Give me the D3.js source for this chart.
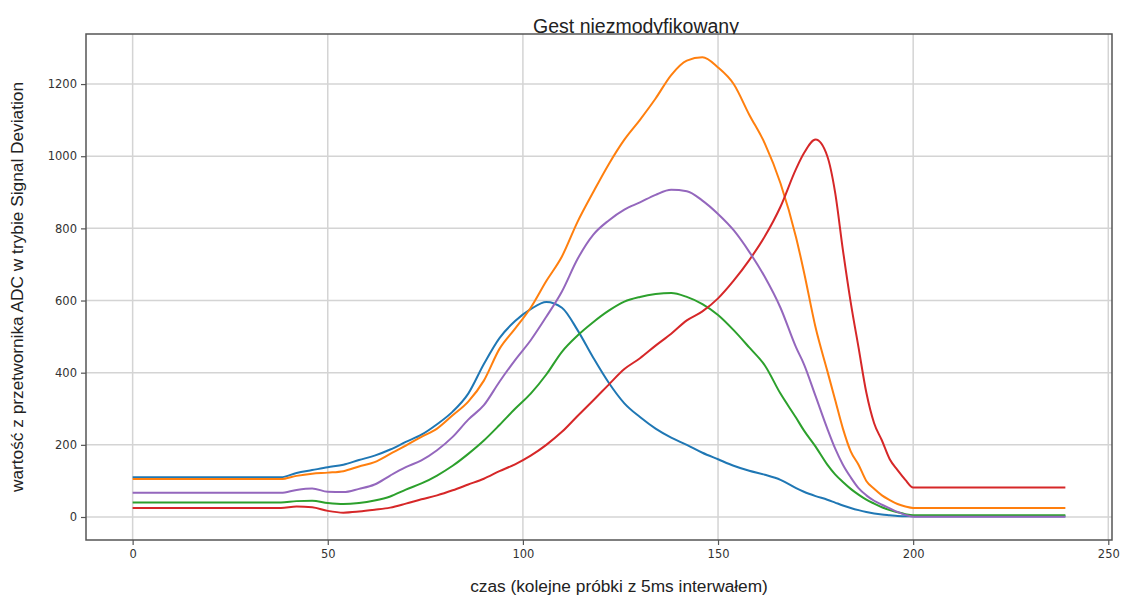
<!DOCTYPE html>
<html>
<head>
<meta charset="utf-8">
<script src="https://cdn.jsdelivr.net/npm/d3@7"></script>
<style>
  body { margin: 0; background: #fff; }
  svg { display: block; }
</style>
</head>
<body>
<svg id="chart" width="1122" height="601"></svg>
<script>
// sample index (kolejne próbki), denser where curves bend
var samples = [0, 38, 42, 46, 50, 54, 58, 62, 66, 70, 74, 78, 82, 86, 90, 94, 98, 102, 106, 110,
  114, 118, 122, 126, 130, 134, 138, 142, 146, 150, 154, 158, 162, 166, 170, 172, 175, 178,
  180, 182, 184, 186, 188, 190, 192, 194, 196, 198, 200, 239];

var blueVals = [110, 110, 122, 130, 138, 145, 158, 170, 187, 208, 228, 257, 292, 342, 424, 496,
  543, 576, 596, 580, 518, 442, 372, 315, 277, 245, 220, 200, 178, 160, 142, 128, 117, 103, 80,
  70, 58, 48, 40, 32, 25, 19, 14, 10, 7, 5, 3, 2, 2, 2];
var orangeVals = [105, 105, 114, 120, 123, 127, 140, 152, 175, 198, 222, 245, 282, 320, 378, 466,
  522, 580, 654, 722, 818, 900, 978, 1046, 1101, 1160, 1225, 1265, 1274, 1246, 1200, 1115, 1035,
  925, 775, 680, 525, 405, 325, 245, 182, 145, 100, 78, 60, 47, 36, 29, 25, 25];
var greenVals = [40, 40, 44, 45, 39, 36, 39, 46, 57, 76, 93, 115, 142, 175, 212, 255, 300, 342,
  395, 458, 503, 540, 572, 597, 610, 618, 621, 610, 590, 560, 518, 470, 420, 342, 275, 240, 195,
  145, 118, 97, 78, 62, 48, 37, 27, 19, 13, 8, 5, 5];
var redVals = [25, 25, 29, 27, 17, 12, 15, 20, 26, 37, 49, 60, 74, 90, 106, 127, 146, 170, 200,
  236, 280, 323, 367, 410, 440, 475, 508, 545, 570, 606, 655, 712, 778, 860, 965, 1008, 1046,
  1000, 900, 740, 595, 470, 345, 260, 212, 160, 130, 103, 82, 82];
var purpleVals = [67, 67, 75, 79, 70, 69, 78, 90, 115, 138, 157, 185, 222, 270, 310, 375, 435,
  490, 555, 625, 715, 782, 822, 852, 872, 893, 907, 903, 877, 840, 795, 735, 665, 580, 470, 424,
  335, 245, 190, 145, 110, 80, 60, 45, 34, 24, 14, 6, 1, 1];

var seriesColors = ["#1f77b4", "#ff7f0e", "#2ca02c", "#d62728", "#9467bd"];
var xTicks = [0, 50, 100, 150, 200, 250];
var yTicks = [0, 200, 400, 600, 800, 1000, 1200];

var title = "Gest niezmodyfikowany";
var xLabel = "czas (kolejne próbki z 5ms interwałem)";
var yLabel = "wartość z przetwornika ADC w trybie Signal Deviation";

var svg = d3.select("#chart");
// plot box (note: "top" is taken by window.top)
var boxL = 86, boxR = 1112, boxT = 34, boxB = 540;

var x = d3.scaleLinear().domain([-11.95, 250.95]).range([boxL, boxR]);
var y = d3.scaleLinear().domain([-63.75, 1338.75]).range([boxB, boxT]);

var defs = svg.append("defs");
defs.append("clipPath").attr("id", "plot")
  .append("rect").attr("x", boxL).attr("y", boxT).attr("width", boxR - boxL).attr("height", boxB - boxT);
defs.append("clipPath").attr("id", "titleClip")
  .append("rect").attr("x", 0).attr("y", 0).attr("width", 1122).attr("height", boxT);

// grid
var grid = svg.append("g");
grid.selectAll("line.gx").data(xTicks).enter().append("line").attr("class", "gx")
  .attr("x1", function(d) { return x(d); }).attr("x2", function(d) { return x(d); })
  .attr("y1", boxT).attr("y2", boxB)
  .attr("stroke", "#d4d4d4").attr("stroke-width", 1.5);
grid.selectAll("line.gy").data(yTicks).enter().append("line").attr("class", "gy")
  .attr("y1", function(d) { return y(d); }).attr("y2", function(d) { return y(d); })
  .attr("x1", boxL).attr("x2", boxR)
  .attr("stroke", "#d4d4d4").attr("stroke-width", 1.5);

// lines
var all = [blueVals, orangeVals, greenVals, redVals, purpleVals];
var line = d3.line()
  .x(function(d, i) { return x(samples[i]); })
  .y(function(d) { return y(d); })
  .curve(d3.curveMonotoneX);

svg.append("g").attr("clip-path", "url(#plot)")
  .selectAll("path").data(all).enter().append("path")
  .attr("d", line)
  .attr("fill", "none")
  .attr("stroke", function(d, i) { return seriesColors[i]; })
  .attr("stroke-width", 2)
  .attr("stroke-linejoin", "round");

// axes
var xAxis = svg.append("g").attr("transform", "translate(0," + boxB + ")")
  .call(d3.axisBottom(x).tickValues(xTicks).tickSize(5).tickPadding(5));
var yAxis = svg.append("g").attr("transform", "translate(" + boxL + ",0)")
  .call(d3.axisLeft(y).tickValues(yTicks).tickFormat(d3.format("d")).tickSize(5).tickPadding(4));
[xAxis, yAxis].forEach(function(a) {
  a.select(".domain").remove();
  a.selectAll("line").attr("stroke", "#555").attr("stroke-width", 1.2);
  a.selectAll("text").attr("fill", "#333")
    .style("font-family", "'DejaVu Sans', sans-serif").style("font-size", "11.5px");
});

// frame
svg.append("rect").attr("x", boxL).attr("y", boxT)
  .attr("width", boxR - boxL).attr("height", boxB - boxT)
  .attr("fill", "none").attr("stroke", "#555").attr("stroke-width", 1.5);

// texts - title sits on the frame, its descenders cut like in the source
svg.append("text").attr("x", 636).attr("y", 33)
  .attr("text-anchor", "middle").attr("clip-path", "url(#titleClip)")
  .style("font-family", "'Liberation Sans', Arial, sans-serif").style("font-size", "19.5px")
  .attr("fill", "#222").text(title);

svg.append("text").attr("x", 619).attr("y", 592)
  .attr("text-anchor", "middle")
  .style("font-family", "'Liberation Sans', Arial, sans-serif").style("font-size", "17.3px")
  .attr("fill", "#222").text(xLabel);

svg.append("text")
  .attr("transform", "translate(23,287)rotate(-90)")
  .attr("text-anchor", "middle")
  .style("font-family", "'Liberation Sans', Arial, sans-serif").style("font-size", "17.3px")
  .attr("fill", "#222").text(yLabel);
</script>
</body>
</html>
